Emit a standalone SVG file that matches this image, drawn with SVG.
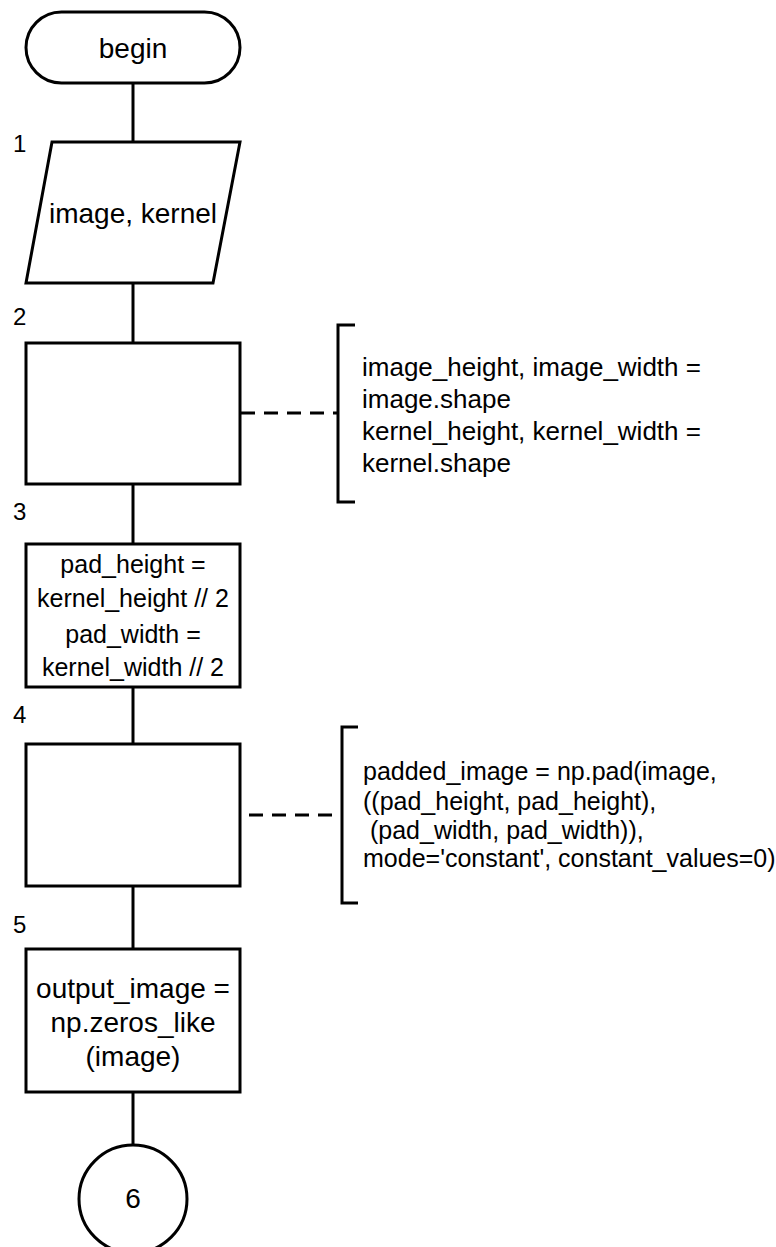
<svg xmlns="http://www.w3.org/2000/svg" width="776" height="1247" viewBox="0 0 776 1247">
<style>
.shape{fill:#fff;stroke:#000;stroke-width:3}
.line{fill:none;stroke:#000;stroke-width:3}
.dash{fill:none;stroke:#000;stroke-width:3;stroke-dasharray:14 9}
text{font-family:"Liberation Sans",Arial,sans-serif;fill:#000}
.c{text-anchor:middle}
.n28{font-size:28px}
.n25{font-size:25px}
.lbl{font-size:24px}
</style>
<rect width="776" height="1247" fill="#fff"/>
<g id="connectors">
<line class="line" x1="133" y1="83" x2="133" y2="142"/>
<line class="line" x1="133" y1="283" x2="133" y2="343"/>
<line class="line" x1="133" y1="484" x2="133" y2="544"/>
<line class="line" x1="133" y1="687" x2="133" y2="744"/>
<line class="line" x1="133" y1="886" x2="133" y2="949"/>
<line class="line" x1="133" y1="1092" x2="133" y2="1144"/>
<line class="dash" x1="241" y1="413" x2="338" y2="413"/>
<line class="dash" x1="249" y1="815" x2="342" y2="815"/>
</g>
<g id="begin">
<rect class="shape" x="26" y="12" width="214" height="71" rx="35.5"/>
<text class="c n28" x="133" y="58">begin</text>
</g>
<g id="n1">
<text class="lbl" x="13" y="152">1</text>
<polygon class="shape" points="52,142 240,142 213,283 26,283"/>
<text class="c n28" x="133" y="223">image, kernel</text>
</g>
<g id="n2">
<text class="lbl" x="13" y="325">2</text>
<rect class="shape" x="26" y="343" width="214" height="141"/>
</g>
<g id="note2">
<polyline class="line" points="355,325 338,325 338,502 355,502"/>
<text style="font-size:26px" x="362" y="376">image_height, image_width =</text>
<text style="font-size:26px" x="362" y="408">image.shape</text>
<text style="font-size:26px" x="362" y="440">kernel_height, kernel_width =</text>
<text style="font-size:26px" x="362" y="472">kernel.shape</text>
</g>
<g id="n3">
<text class="lbl" x="13" y="520">3</text>
<rect class="shape" x="26" y="544" width="214" height="143"/>
<text class="c n25" x="133" y="573">pad_height =</text>
<text class="c n25" x="133" y="607">kernel_height // 2</text>
<text class="c n25" x="133" y="643">pad_width =</text>
<text class="c n25" x="133" y="676">kernel_width // 2</text>
</g>
<g id="n4">
<text class="lbl" x="13" y="723">4</text>
<rect class="shape" x="26" y="744" width="214" height="142"/>
</g>
<g id="note4">
<polyline class="line" points="358,727 342,727 342,903 358,903"/>
<text class="n25" x="363" y="780">padded_image = np.pad(image,</text>
<text class="n25" x="363" y="810">((pad_height, pad_height),</text>
<text class="n25" x="363" y="839" xml:space="preserve"> (pad_width, pad_width)),</text>
<text class="n25" x="363" y="867">mode='constant', constant_values=0)</text>
</g>
<g id="n5">
<text class="lbl" x="13" y="933">5</text>
<rect class="shape" x="26" y="949" width="214" height="143"/>
<text class="c n28" x="133" y="998">output_image =</text>
<text class="c n28" x="133" y="1032">np.zeros_like</text>
<text class="c n28" x="133" y="1066">(image)</text>
</g>
<g id="n6">
<circle class="shape" cx="133" cy="1199" r="54"/>
<text class="c n28" x="133" y="1208">6</text>
</g>
</svg>
